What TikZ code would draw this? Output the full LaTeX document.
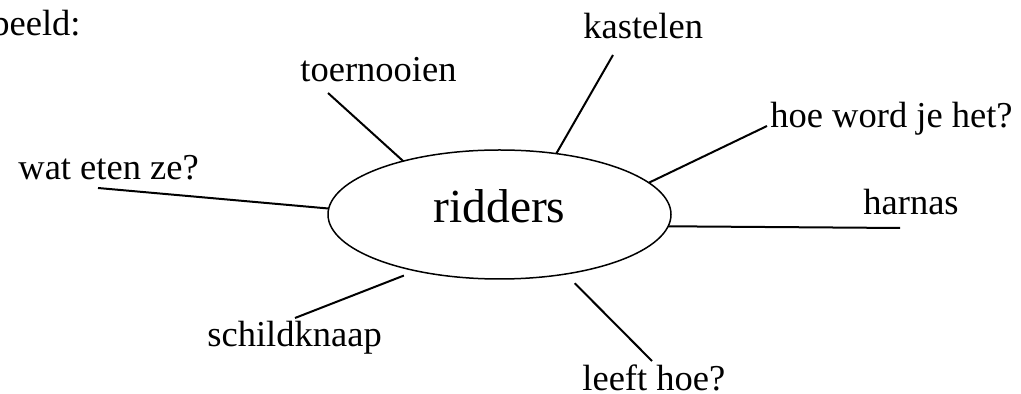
\documentclass[tikz,border=0pt]{standalone}
\usepackage{fontspec}
\setmainfont{Liberation Serif}
\usetikzlibrary{shapes.geometric}

\begin{document}
\begin{tikzpicture}[x=0.5pt,y=-0.5pt,
  lbl/.style={font=\fontsize{18.25}{22}\selectfont,inner sep=0pt,anchor=base west},
  spoke/.style={line width=1pt}]
\useasboundingbox (0,0) rectangle (1021,394);
\clip (0,0) rectangle (1021,394);
% centre
\node[draw,ellipse,line width=0.75pt,minimum width=171.5pt,minimum height=64.5pt,
  inner sep=0pt,outer sep=0pt,text depth=8.5pt,
  font=\fontsize{23.75}{28}\selectfont] (rid) at (499.5,214.5) {ridders};
% labels
\node[lbl,anchor=base east] (vb) at (81,36) {beeld:};
\node[lbl] (kas) at (583,39) {kastelen};
\node[lbl] (toe) at (300,82) {toernooien};
\node[lbl] (hoe) at (770,128) {hoe word je het?};
\node[lbl] (har) at (863,215) {harnas};
\node[lbl] (wat) at (18,180) {wat eten ze?};
\node[lbl] (sch) at (207,347) {schildknaap};
\node[lbl] (lee) at (582,391) {leeft hoe?};
% free ends
\coordinate (kas') at (613,55);
\coordinate (toe') at (328,93);
\coordinate (hoe') at (767,126);
\coordinate (har') at (900,228);
\coordinate (wat') at (98,188);
\coordinate (sch') at (295,318);
\coordinate (lee') at (652,361);

\draw[spoke] (rid.47) edge (kas')
             (rid.151) edge (toe')
             (rid.12) edge (hoe')
             (rid.356) edge (har')
             (rid.178) edge (wat')
             (rid.214) edge[shorten <=6.5pt] (sch')
             (rid.318) edge[shorten <=6.5pt] (lee')
;
\end{tikzpicture}
\end{document}
